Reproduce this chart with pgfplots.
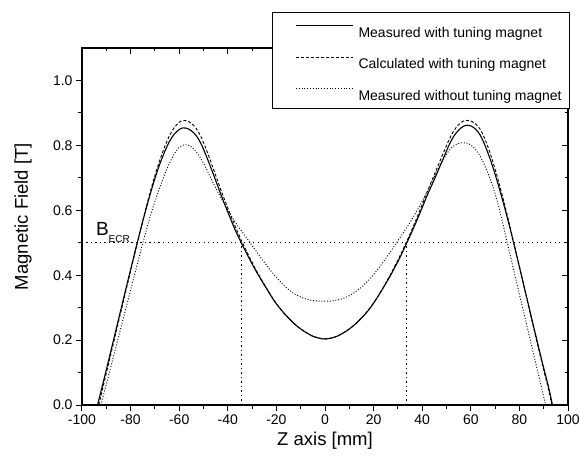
\documentclass[border=0pt]{standalone}
\usepackage{pgfplots}
\pgfplotsset{compat=1.18}
\usepackage{fontspec}
\setmainfont{Liberation Sans}
\begin{document}
\begin{tikzpicture}
\useasboundingbox (-82pt,-59pt) rectangle (498pt,405pt);
\pgfplotsset{
  base/.style={
    width=486pt, height=357pt, scale only axis,
    at={(0pt,0pt)}, anchor=south west,
    xmin=-100, xmax=100, ymin=0, ymax=1.1,
    xtick={-100,-80,...,100},
    ytick={0,0.2,0.4,0.6,0.8,1.0},
    minor x tick num=1, minor y tick num=1,
    major tick length=6pt, minor tick length=3.5pt,
    axis line style={line width=1.3pt},
    every tick/.style={line width=1pt, black},
    /pgf/number format/assume math mode=true,
    tick label style={font=\fontsize{14}{14}\selectfont},
  }
}
% top/right ticks (inside)
\begin{axis}[base, tick align=inside, xtick pos=top, ytick pos=right,
  xticklabels={}, yticklabels={}]
\end{axis}
\begin{axis}[base, tick align=outside, xtick pos=bottom, ytick pos=left,
  yticklabel style={/pgf/number format/.cd, fixed, fixed zerofill, precision=1},
  xlabel={Z axis [mm]}, ylabel={Magnetic Field [T]},
  label style={font=\fontsize{18.5}{18.5}\selectfont},
  xlabel style={at={(axis description cs:0.5,-0.1008)}, anchor=center},
  ylabel style={at={(axis description cs:-0.1214,0.528)}, anchor=center, rotate=0},
  clip=false,
  legend image code/.code={\path (0pt,3.2pt); \draw[#1] (15pt,3.2pt) -- (72pt,3.2pt);},
  legend style={
    at={(axis description cs:0.391,1.1008)}, anchor=north west,
    draw=black, line width=0.8pt, fill=white,
    inner xsep=8pt, inner ysep=5pt,
    font=\fontsize{14}{14}\selectfont,
    row sep=8.5pt, column sep=5pt,
    nodes={inner sep=0pt, text height=20pt, text depth=3pt, anchor=west},
  },
  legend cell align=left,
]
% Measured with tuning magnet
\addplot[black, line width=1.1pt, smooth] coordinates {
(-93.6,0) (-92,0.048) (-90,0.108) (-88,0.170) (-86,0.232) (-84,0.294) (-82,0.356)
(-80,0.417) (-78,0.478) (-76,0.537) (-74,0.594) (-72,0.648) (-70,0.698) (-68,0.742)
(-66,0.780) (-64,0.812) (-62,0.835) (-60,0.849) (-58.4,0.854) (-57,0.853) (-55,0.845)
(-53,0.830) (-51,0.805) (-49,0.770) (-47,0.732) (-45,0.692) (-43,0.652) (-41,0.613)
(-39,0.576) (-37,0.540) (-35,0.508) (-33,0.478) (-31,0.449) (-29,0.421) (-27,0.395)
(-25,0.370) (-23,0.346) (-21,0.322) (-19,0.302) (-17,0.284) (-15,0.268) (-13,0.253)
(-11,0.240) (-9,0.229) (-7,0.220) (-5,0.212) (-3,0.207) (-1,0.204) (0,0.2035)
(1,0.204) (3,0.207) (5,0.212) (7,0.220) (9,0.229) (11,0.240) (13,0.253) (15,0.268)
(17,0.284) (19,0.303) (21,0.325) (23,0.349) (25,0.374) (27,0.400) (29,0.428) (31,0.457)
(33,0.489) (35,0.521) (37,0.555) (39,0.590) (41,0.627) (43,0.662) (45,0.695) (47,0.730)
(49,0.765) (51,0.800) (53,0.828) (55,0.847) (57,0.859) (58.6,0.862) (60,0.860)
(62,0.850) (64,0.830) (66,0.797) (68,0.757) (70,0.711) (72,0.660) (74,0.606)
(76,0.549) (78,0.488) (80,0.426) (82,0.363) (84,0.300) (86,0.237) (88,0.175)
(90,0.114) (92,0.055) (93.6,0)
};
\addlegendentry{Measured with tuning magnet}
% Calculated with tuning magnet
\addplot[black, line width=0.9pt, dash pattern=on 3pt off 2pt, smooth] coordinates {
(-93.1,0) (-90,0.098) (-86,0.224) (-82,0.350) (-78,0.475) (-76,0.537) (-74,0.597)
(-72,0.654) (-70,0.707) (-68,0.754) (-66,0.795) (-64,0.830) (-62,0.855) (-60,0.871)
(-58.5,0.877) (-57,0.876) (-55,0.868) (-53,0.852) (-51,0.826) (-49,0.790) (-47,0.750)
(-45,0.708) (-43,0.666) (-41,0.626) (-39,0.588) (-37,0.551) (-35,0.517) (-33,0.485)
(-31,0.454) (-29,0.425) (-27,0.398) (-25,0.372) (-23,0.347) (-21,0.323) (-19,0.302)
(-17,0.284) (-15,0.268) (-13,0.253) (-11,0.240) (-9,0.229) (-7,0.220) (-5,0.212)
(-3,0.207) (-1,0.204) (0,0.2035) (1,0.204) (3,0.207) (5,0.212) (7,0.220) (9,0.229)
(11,0.240) (13,0.253) (15,0.268) (17,0.285) (19,0.304) (21,0.326) (23,0.350)
(25,0.376) (27,0.403) (29,0.432) (31,0.462) (33,0.494) (35,0.527) (37,0.562)
(39,0.599) (41,0.637) (43,0.674) (45,0.710) (47,0.746) (49,0.782) (51,0.816)
(53,0.845) (55,0.864) (57,0.875) (58.5,0.877) (60,0.875) (62,0.866) (64,0.848)
(66,0.816) (68,0.775) (70,0.727) (72,0.673) (74,0.615) (76,0.554) (78,0.490)
(80,0.426) (82,0.361) (84,0.297) (86,0.233) (88,0.170) (90,0.108) (92,0.047) (93.4,0)
};
\addlegendentry{Calculated with tuning magnet}
% Measured without tuning magnet
\addplot[black, line width=0.9pt, dash pattern=on 1pt off 1.8pt, smooth] coordinates {
(-92.2,0) (-90,0.064) (-88,0.122) (-86,0.180) (-84,0.238) (-82,0.296) (-80,0.354)
(-78,0.412) (-76,0.470) (-74,0.526) (-72,0.579) (-70,0.627) (-68,0.670) (-66,0.710)
(-64,0.745) (-62,0.774) (-60,0.794) (-58,0.802) (-56,0.800) (-54,0.789) (-52,0.770)
(-50,0.745) (-48,0.715) (-46,0.684) (-44,0.655) (-42,0.627) (-40,0.601) (-38,0.576)
(-36,0.553) (-34,0.533) (-32,0.512) (-30,0.491) (-28,0.471) (-26,0.450) (-24,0.430)
(-22,0.411) (-20,0.393) (-18,0.377) (-16,0.362) (-14,0.350) (-12,0.340) (-10,0.333)
(-8,0.327) (-6,0.323) (-4,0.321) (-2,0.320) (0,0.320) (2,0.320) (4,0.322) (6,0.325)
(8,0.330) (10,0.337) (12,0.346) (14,0.357) (16,0.370) (18,0.385) (20,0.402)
(22,0.421) (24,0.441) (26,0.462) (28,0.484) (30,0.506) (32,0.528) (34,0.551)
(36,0.575) (38,0.601) (40,0.628) (42,0.657) (44,0.688) (46,0.719) (48,0.748)
(50,0.773) (52,0.792) (54,0.803) (56,0.808) (57.2,0.808) (59,0.806) (61,0.795)
(63,0.777) (65,0.750) (67,0.715) (69,0.675) (71,0.625) (73,0.565) (75,0.500)
(77,0.437) (79,0.373) (81,0.310) (83,0.247) (85,0.183) (87,0.120) (89,0.057) (90.8,0)
};
\addlegendentry{Measured without tuning magnet}
% B_ECR reference lines
\addplot[black, line width=0.9pt, dash pattern=on 1.2pt off 3.3pt, forget plot] coordinates {(-100,0.5) (100,0.5)};
\addplot[black, line width=0.9pt, dash pattern=on 1.2pt off 3.3pt, forget plot] coordinates {(-34.3,0) (-34.3,0.5)};
\addplot[black, line width=0.9pt, dash pattern=on 1.2pt off 3.3pt, forget plot] coordinates {(33.6,0) (33.6,0.5)};
\node[anchor=base west, inner sep=0pt] at (axis cs:-94.3,0.523)
  {\fontsize{19}{19}\selectfont B\raisebox{-7pt}{\fontsize{10}{10}\selectfont ECR}};
\end{axis}
\end{tikzpicture}
\end{document}
